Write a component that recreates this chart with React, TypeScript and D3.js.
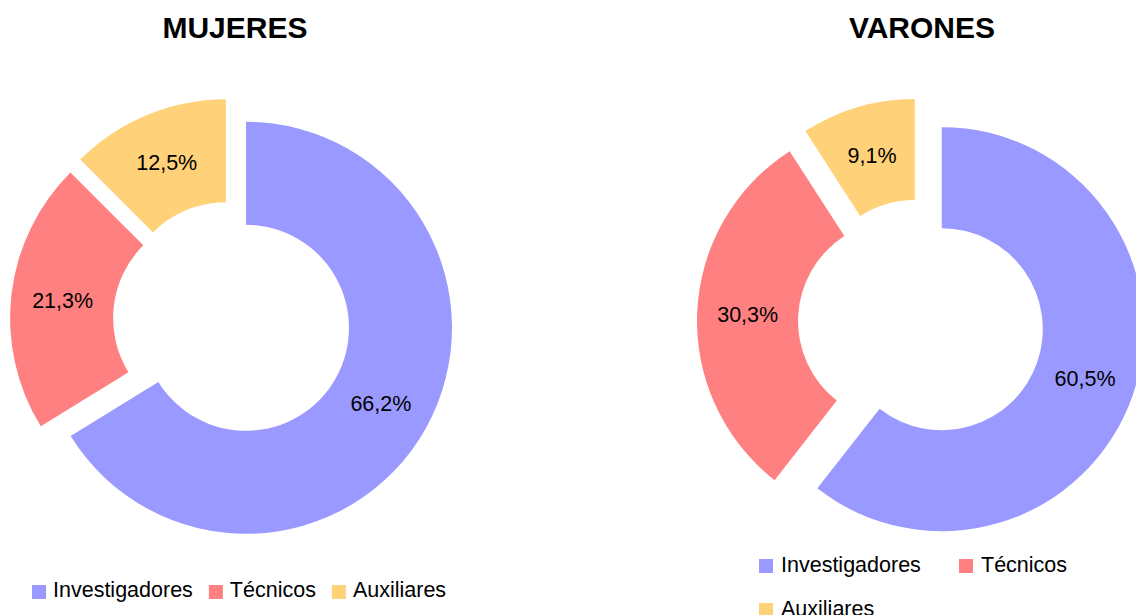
import React, { useEffect, useRef } from 'react';
import * as d3 from 'd3';

const categories = ['Investigadores', 'Técnicos', 'Auxiliares'];
const mujeres = [66.2, 21.3, 12.5];
const varones = [60.5, 30.3, 9.1];
const colors = ['#9999FF', '#FF8080', '#FFD27A'];

const W = 1136;
const H = 615;
const font = '"Liberation Sans", Arial, sans-serif';

type Donut = {
  title: string;
  values: number[];
  cx: number;
  cy: number;
  R: number;
  explode: number;
  titleX: number;
};

const App = () => {
  const ref = useRef<SVGSVGElement>(null);

  useEffect(() => {
    const svg = d3.select(ref.current);
    svg.selectAll('*').remove();

    const donuts: Donut[] = [
      { title: 'MUJERES', values: mujeres, cx: 232, cy: 320, R: 206, explode: 16, titleX: 235 },
      { title: 'VARONES', values: varones, cx: 921, cy: 322, R: 202, explode: 22, titleX: 922 }
    ];

    const pie = d3.pie<number>().sort(null).value(d => d);

    donuts.forEach(dn => {
      const arc = d3
        .arc<d3.PieArcDatum<number>>()
        .innerRadius(dn.R * 0.5)
        .outerRadius(dn.R);
      const labelArc = d3
        .arc<d3.PieArcDatum<number>>()
        .innerRadius(dn.R * 0.75)
        .outerRadius(dn.R * 0.75);

      svg
        .append('text')
        .attr('x', dn.titleX)
        .attr('y', 38)
        .attr('text-anchor', 'middle')
        .attr('font-family', font)
        .attr('font-weight', 'bold')
        .attr('font-size', 30)
        .text(dn.title);

      const g = svg.append('g').attr('transform', `translate(${dn.cx},${dn.cy})`);
      const slices = g
        .selectAll('g.slice')
        .data(pie(dn.values))
        .enter()
        .append('g')
        .attr('class', 'slice')
        .attr('transform', d => {
          const a = (d.startAngle + d.endAngle) / 2;
          return `translate(${Math.sin(a) * dn.explode},${-Math.cos(a) * dn.explode})`;
        });

      slices
        .append('path')
        .attr('d', arc)
        .attr('fill', (d, i) => colors[i]);

      slices
        .append('text')
        .attr('transform', d => `translate(${labelArc.centroid(d)})`)
        .attr('text-anchor', 'middle')
        .attr('dy', '0.35em')
        .attr('font-family', font)
        .attr('font-size', 21.5)
        .text(d => d.data.toFixed(1).replace('.', ',') + '%');
    });

    // left legend: items flow in one row
    let x = 32;
    categories.forEach((c, i) => {
      svg
        .append('rect')
        .attr('x', x)
        .attr('y', 585)
        .attr('width', 14)
        .attr('height', 14)
        .attr('fill', colors[i]);
      const t = svg
        .append('text')
        .attr('x', x + 21)
        .attr('y', 597)
        .attr('font-family', font)
        .attr('font-size', 21.5)
        .text(c);
      const len = (t.node() as SVGTextElement).getComputedTextLength();
      x += 21 + len + 16;
    });

    // right legend: two columns, wraps
    categories.forEach((c, i) => {
      const lx = 759 + (i % 2) * 200;
      const ly = 559 + Math.floor(i / 2) * 44;
      svg
        .append('rect')
        .attr('x', lx)
        .attr('y', ly)
        .attr('width', 14)
        .attr('height', 14)
        .attr('fill', colors[i]);
      svg
        .append('text')
        .attr('x', lx + 22)
        .attr('y', ly + 13)
        .attr('font-family', font)
        .attr('font-size', 21.5)
        .text(c);
    });
  }, []);

  return (
    <svg
      ref={ref}
      width={W}
      height={H}
      style={{ position: 'absolute', left: 0, top: 0, background: '#fff' }}
    />
  );
};

export default App;
